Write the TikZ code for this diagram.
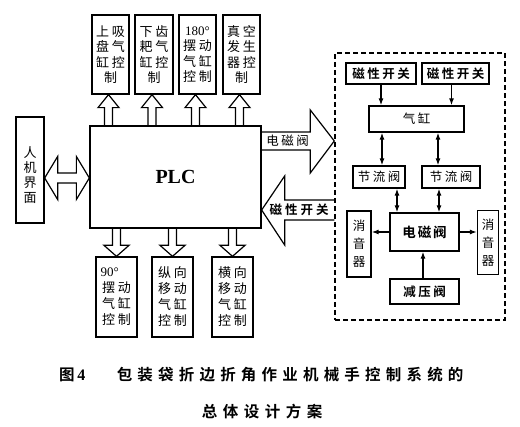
\documentclass[tikz,border=0pt]{standalone}
\usepackage{fontspec}
\setmainfont{Liberation Serif}
\newfontfamily\cjk{Noto Sans CJK SC}[BoldFont={Noto Sans CJK SC Bold}]
\usetikzlibrary{arrows.meta,calc}
\makeatletter
\def\sprd#1#2{\def\sprd@w{#1}\sprd@#2\@nil}
\def\sprd@#1{\ifx#1\@nil\else\makebox[\sprd@w][c]{#1}\expandafter\sprd@\fi}
\makeatother
\newcommand\rw[1]{\sprd{16pt}{#1}}
\begin{document}
\begin{tikzpicture}[x=1pt,y=-1pt,
  bx/.style={draw, line width=1.3pt, inner sep=0pt, align=center,
    font=\cjk\fontsize{13}{15.5}\selectfont},
  sbx/.style={draw, line width=1.3pt, inner sep=0pt, align=center,
    font=\cjk\fontsize{12.5}{18}\selectfont},
  bbx/.style={sbx, font=\cjk\bfseries\fontsize{12.5}{18}\selectfont},
  lbl/.style={inner sep=0pt, font=\cjk\fontsize{12.5}{14}\selectfont},
  hol/.style={draw, line width=1.2pt, line join=miter},
  sa/.style={line width=1.2pt, -{Latex[length=7pt,width=5pt]}},
  da/.style={line width=1.2pt, {Latex[length=7pt,width=5pt]}-{Latex[length=7pt,width=5pt]}},
  captxt/.style={inner sep=0pt, anchor=west, font=\cjk\bfseries\fontsize{15.5}{17}\selectfont}
]
\useasboundingbox (0,0) rectangle (520,427);

% top boxes
\node[bx, minimum width=37, minimum height=79] (t1) at (110.5,54.5) {\rw{上吸}\\\rw{盘气}\\\rw{缸控}\\制};
\node[bx, minimum width=38, minimum height=79] (t2) at (154,54.5) {\rw{下齿}\\\rw{耙气}\\\rw{缸控}\\制};
\node[bx, minimum width=37, minimum height=79] (t3) at (197.5,54.5) {{\rmfamily 180°}\\\rw{摆动}\\\rw{气缸}\\\rw{控制}};
\node[bx, minimum width=37, minimum height=79] (t4) at (241.5,54.5) {\rw{真空}\\\rw{发生}\\\rw{器控}\\制};

% PLC
\node[draw, line width=1.3pt, minimum width=171, minimum height=102, inner sep=0pt,
  font=\bfseries\fontsize{20}{20}\selectfont] (plc) at (175.5,177) {PLC};

% HMI
\node[draw, line width=1.3pt, minimum width=28, minimum height=106, inner sep=0pt] (hmi) at (30,170) {};
\node[align=center, inner sep=0pt, font=\cjk\fontsize{13}{15}\selectfont] (hmitxt) at (hmi.center) [yshift=-5pt] {人\\机\\界\\面};

% bottom boxes
\node[bx, minimum width=41, minimum height=80, align=left, font=\cjk\fontsize{13}{16}\selectfont] (c1) at (116.5,297) {{\rmfamily 90°}\\\rw{摆动}\\\rw{气缸}\\\rw{控制}};
\node[bx, minimum width=41, minimum height=80, font=\cjk\fontsize{13}{16}\selectfont] (c2) at (172.5,297) {\rw{纵向}\\\rw{移动}\\\rw{气缸}\\\rw{控制}};
\node[bx, minimum width=41, minimum height=80, font=\cjk\fontsize{13}{16}\selectfont] (c3) at (232.5,297) {\rw{横向}\\\rw{移动}\\\rw{气缸}\\\rw{控制}};

% hollow arrows up
\foreach \b in {t1,t2,t3,t4}
  \draw[hol] let \p1=([xshift=-2pt]\b.south), \p2=(plc.north) in
    (\x1-4pt,\y2) -- (\x1-4pt,\y1-13pt) -- (\x1-10.5pt,\y1-13pt) -- (\x1,\y1)
    -- (\x1+10.5pt,\y1-13pt) -- (\x1+4pt,\y1-13pt) -- (\x1+4pt,\y2);
% hollow arrows down
\foreach \b in {c1,c2,c3}
  \draw[hol] let \p1=(\b.north), \p2=(plc.south) in
    (\x1-4pt,\y2) -- (\x1-4pt,\y1+11pt) -- (\x1-12.5pt,\y1+11pt) -- (\x1,\y1)
    -- (\x1+12.5pt,\y1+11pt) -- (\x1+4pt,\y1+11pt) -- (\x1+4pt,\y2);

% double hollow arrow HMI <-> PLC
\path (hmi.east |- 0,178) coordinate (hL);
\draw[hol] let \p1=(hL), \p2=(plc.west |- hL) in
  (\x1,\y1) -- (\x1+13pt,\y1+21.5pt) -- (\x1+13pt,\y1+5pt) -- (\x2-13pt,\y1+5pt)
  -- (\x2-13pt,\y1+21.5pt) -- (\x2,\y1) -- (\x2-13pt,\y1-21.5pt) -- (\x2-13pt,\y1-5pt)
  -- (\x1+13pt,\y1-5pt) -- (\x1+13pt,\y1-21.5pt) -- cycle;

% dashed box
\node[draw, line width=1.4pt, dash pattern=on 5pt off 3pt, minimum width=170, minimum height=267, inner sep=0pt] (dbox) at (420,186.5) {};

% big arrows PLC <-> dashed box
\path (dbox.west |- 0,141) coordinate (emTip);
\path (plc.east |- 0,210) coordinate (msTip);
\draw[hol] let \p1=(plc.east |- emTip), \p2=(emTip) in
  (\x1,\y2+9pt) -- (\x2-24pt,\y2+9pt) -- (\x2-24pt,\y2+31pt) -- (\x2,\y2)
  -- (\x2-24pt,\y2-32pt) -- (\x2-24pt,\y2-9pt) -- (\x1,\y2-9pt);
\draw[hol] let \p1=(msTip), \p2=(dbox.west |- msTip) in
  (\x2,\y1+10pt) -- (\x1+23pt,\y1+10pt) -- (\x1+23pt,\y1+34pt) -- (\x1,\y1)
  -- (\x1+23pt,\y1-35pt) -- (\x1+23pt,\y1-10pt) -- (\x2,\y1-10pt);
\node[lbl] (emlbl) at (287.5,141) {\sprd{15pt}{电磁阀}};
\node[lbl, font=\cjk\bfseries\fontsize{12.5}{14}\selectfont] (mslbl) at (299,210) {\sprd{15.5pt}{磁性开关}};

% inside dashed box
\node[bbx, minimum width=70, minimum height=21] (mk1) at (381,73.5) {\sprd{15pt}{磁性开关}};
\node[bbx, minimum width=67, minimum height=21] (mk2) at (455.5,73.5) {\sprd{15pt}{磁性开关}};
\node[sbx, minimum width=95, minimum height=26] (cyl) at (416.5,119) {\sprd{15pt}{气缸}};
\node[sbx, minimum width=52, minimum height=22] (jl1) at (379,177) {\sprd{15pt}{节流阀}};
\node[sbx, minimum width=58, minimum height=22] (jl2) at (451,177) {\sprd{15pt}{节流阀}};
\node[bbx, minimum width=69, minimum height=38, font=\cjk\bfseries\fontsize{13.5}{16}\selectfont] (dcf) at (424.5,232) {\sprd{15.5pt}{电磁阀}};
\node[sbx, minimum width=24, minimum height=66] (xy1) at (359,244) {消\\音\\器};
\node[sbx, minimum width=21, minimum height=64] (xy2) at (488,242.5) {消\\音\\器};
\node[bbx, minimum width=69, minimum height=25] (jy) at (424.5,291.5) {\sprd{15pt}{减压阀}};

\draw[sa] (mk1.south) -- (mk1.south |- cyl.north);
\draw[sa] ([xshift=-4pt]mk2.south) -- ([xshift=-4pt]mk2.south |- cyl.north);
\draw[da] ([xshift=3pt]jl1.north) -- ([xshift=3pt]jl1.north |- cyl.south);
\draw[da] ([xshift=-13pt]jl2.north) -- ([xshift=-13pt]jl2.north |- cyl.south);
\draw[da] ([xshift=18pt]jl1.south) -- ([xshift=18pt]jl1.south |- dcf.north);
\draw[da] ([xshift=-12pt]jl2.south) -- ([xshift=-12pt]jl2.south |- dcf.north);
\draw[sa] (dcf.west) -- (dcf.west -| xy1.east);
\draw[sa] (dcf.east) -- (dcf.east -| xy2.west);
\draw[sa] ([xshift=-1.5pt]jy.north) -- ([xshift=-1.5pt]dcf.south);

% caption
\node[captxt] (cap0) at (59,375) {图{\rmfamily\bfseries\fontsize{16}{17}\selectfont\,4}};
\node[captxt] (cap1) at (114,375) {\sprd{20.7pt}{包装袋折边折角作业机械手控制系统的}};
\node[captxt] (cap2) at (199,412) {\sprd{21pt}{总体设计方案}};
\end{tikzpicture}
\end{document}
